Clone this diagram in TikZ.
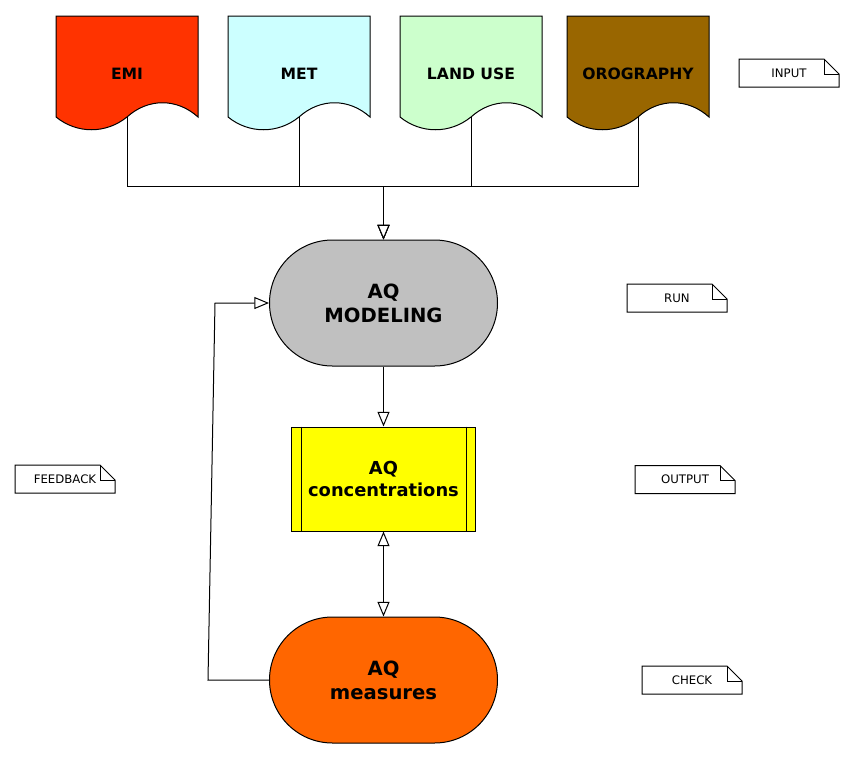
\documentclass[tikz,border=0pt]{standalone}
\usepackage{fontspec}
\setmainfont{DejaVu Sans}
\usetikzlibrary{shapes.misc,arrows.meta,calc}
\definecolor{cemi}{HTML}{FF3300}
\definecolor{cmet}{HTML}{CCFFFF}
\definecolor{cland}{HTML}{CCFFCC}
\definecolor{coro}{HTML}{996600}
\definecolor{cmod}{HTML}{C0C0C0}
\definecolor{cconc}{HTML}{FFFF00}
\definecolor{cmeas}{HTML}{FF6600}
\newcommand\docshape[4]{%
  \filldraw[docline,fill=#2] (#1,16) -- (#1+142,16) -- (#1+142,117)
    .. controls (#1+121,98) and (#1+92,98) .. (#1+71,117)
    .. controls (#1+50,134) and (#1+21,134) .. (#1,117) -- cycle;
  \node[doclabel] (#3) at (#1+71,73.5) {#4};
  \coordinate (#3b) at (#1+71,117);
}
\newcommand\notebox[3]{%
  \node[notelabel] (#1) at (#2) {#3};
  \draw[docline] (#1.north west) -- ($(#1.north east)+(-15,0)$) -- ($(#1.north east)+(0,15)$)
    -- (#1.south east) -- (#1.south west) -- cycle;
  \draw[docline] ($(#1.north east)+(-15,0)$) -- ++(0,15) -- ++(15,0);
}
\begin{document}
\begin{tikzpicture}[x=0.75pt,y=-0.75pt,
  docline/.style={draw=black,line width=0.75pt},
  doclabel/.style={font=\fontsize{11.7}{14}\selectfont\bfseries},
  notelabel/.style={font=\fontsize{8.8}{10}\selectfont,minimum width=75pt,minimum height=21pt,inner sep=0pt,outer sep=0pt},
  stadium/.style={rounded rectangle,draw=black,line width=0.75pt,minimum width=171pt,minimum height=94.5pt,inner sep=0pt,align=center,font=\fontsize{14.7}{18}\selectfont\bfseries},
  conn/.style={draw=black,line width=0.75pt},
  arr/.style={conn,-{Triangle[open,length=11pt,width=9pt,fill=white]}},
  darr/.style={conn,{Triangle[open,length=11pt,width=9pt,fill=white]}-{Triangle[open,length=11pt,width=9pt,fill=white]}}
]
\useasboundingbox (0,0) rectangle (854,758);
\fill[white] (0,0) rectangle (854,758);

\docshape{56}{cemi}{emi}{EMI}
\docshape{228}{cmet}{met}{MET}
\docshape{400}{cland}{land}{LAND USE}
\docshape{567}{coro}{oro}{OROGRAPHY}

\node[stadium,fill=cmod] (model) at (383.5,303) {AQ\\MODELING};
\node[draw=black,line width=0.75pt,fill=cconc,minimum width=138pt,minimum height=78pt,inner sep=0pt,align=center,
      font=\fontsize{13.4}{16}\selectfont\bfseries] (conc) at (383.5,479) {AQ\\concentrations};
\draw[conn] ($(conc.north west)+(10,0)$) -- ($(conc.south west)+(10,0)$);
\draw[conn] ($(conc.north east)+(-10,0)$) -- ($(conc.south east)+(-10,0)$);
\node[stadium,fill=cmeas] (meas) at (383.5,680) {AQ\\measures};

\coordinate (jn) at (383.5,186);
\coordinate (fb1) at (208,680);
\coordinate (fb2) at (215,303);

\draw[arr] (emib) -- (emib |- jn) -- (jn) -- (model.north);
\draw[arr] (metb) -- (metb |- jn) -- (jn) -- (model.north);
\draw[arr] (landb) -- (landb |- jn) -- (jn) -- (model.north);
\draw[arr] (orob) -- (orob |- jn) -- (jn) -- (model.north);

\draw[arr] (model.south) -- (conc.north);
\draw[darr] (conc.south) -- (meas.north);
\draw[arr] (meas.west) -- (fb1) -- (fb2) -- (model.west);

\notebox{ninput}{789,73}{INPUT}
\notebox{nrun}{677,298}{RUN}
\notebox{noutput}{685,479.5}{OUTPUT}
\notebox{ncheck}{692,680}{CHECK}
\notebox{nfeed}{65,479}{FEEDBACK}
\end{tikzpicture}
\end{document}
